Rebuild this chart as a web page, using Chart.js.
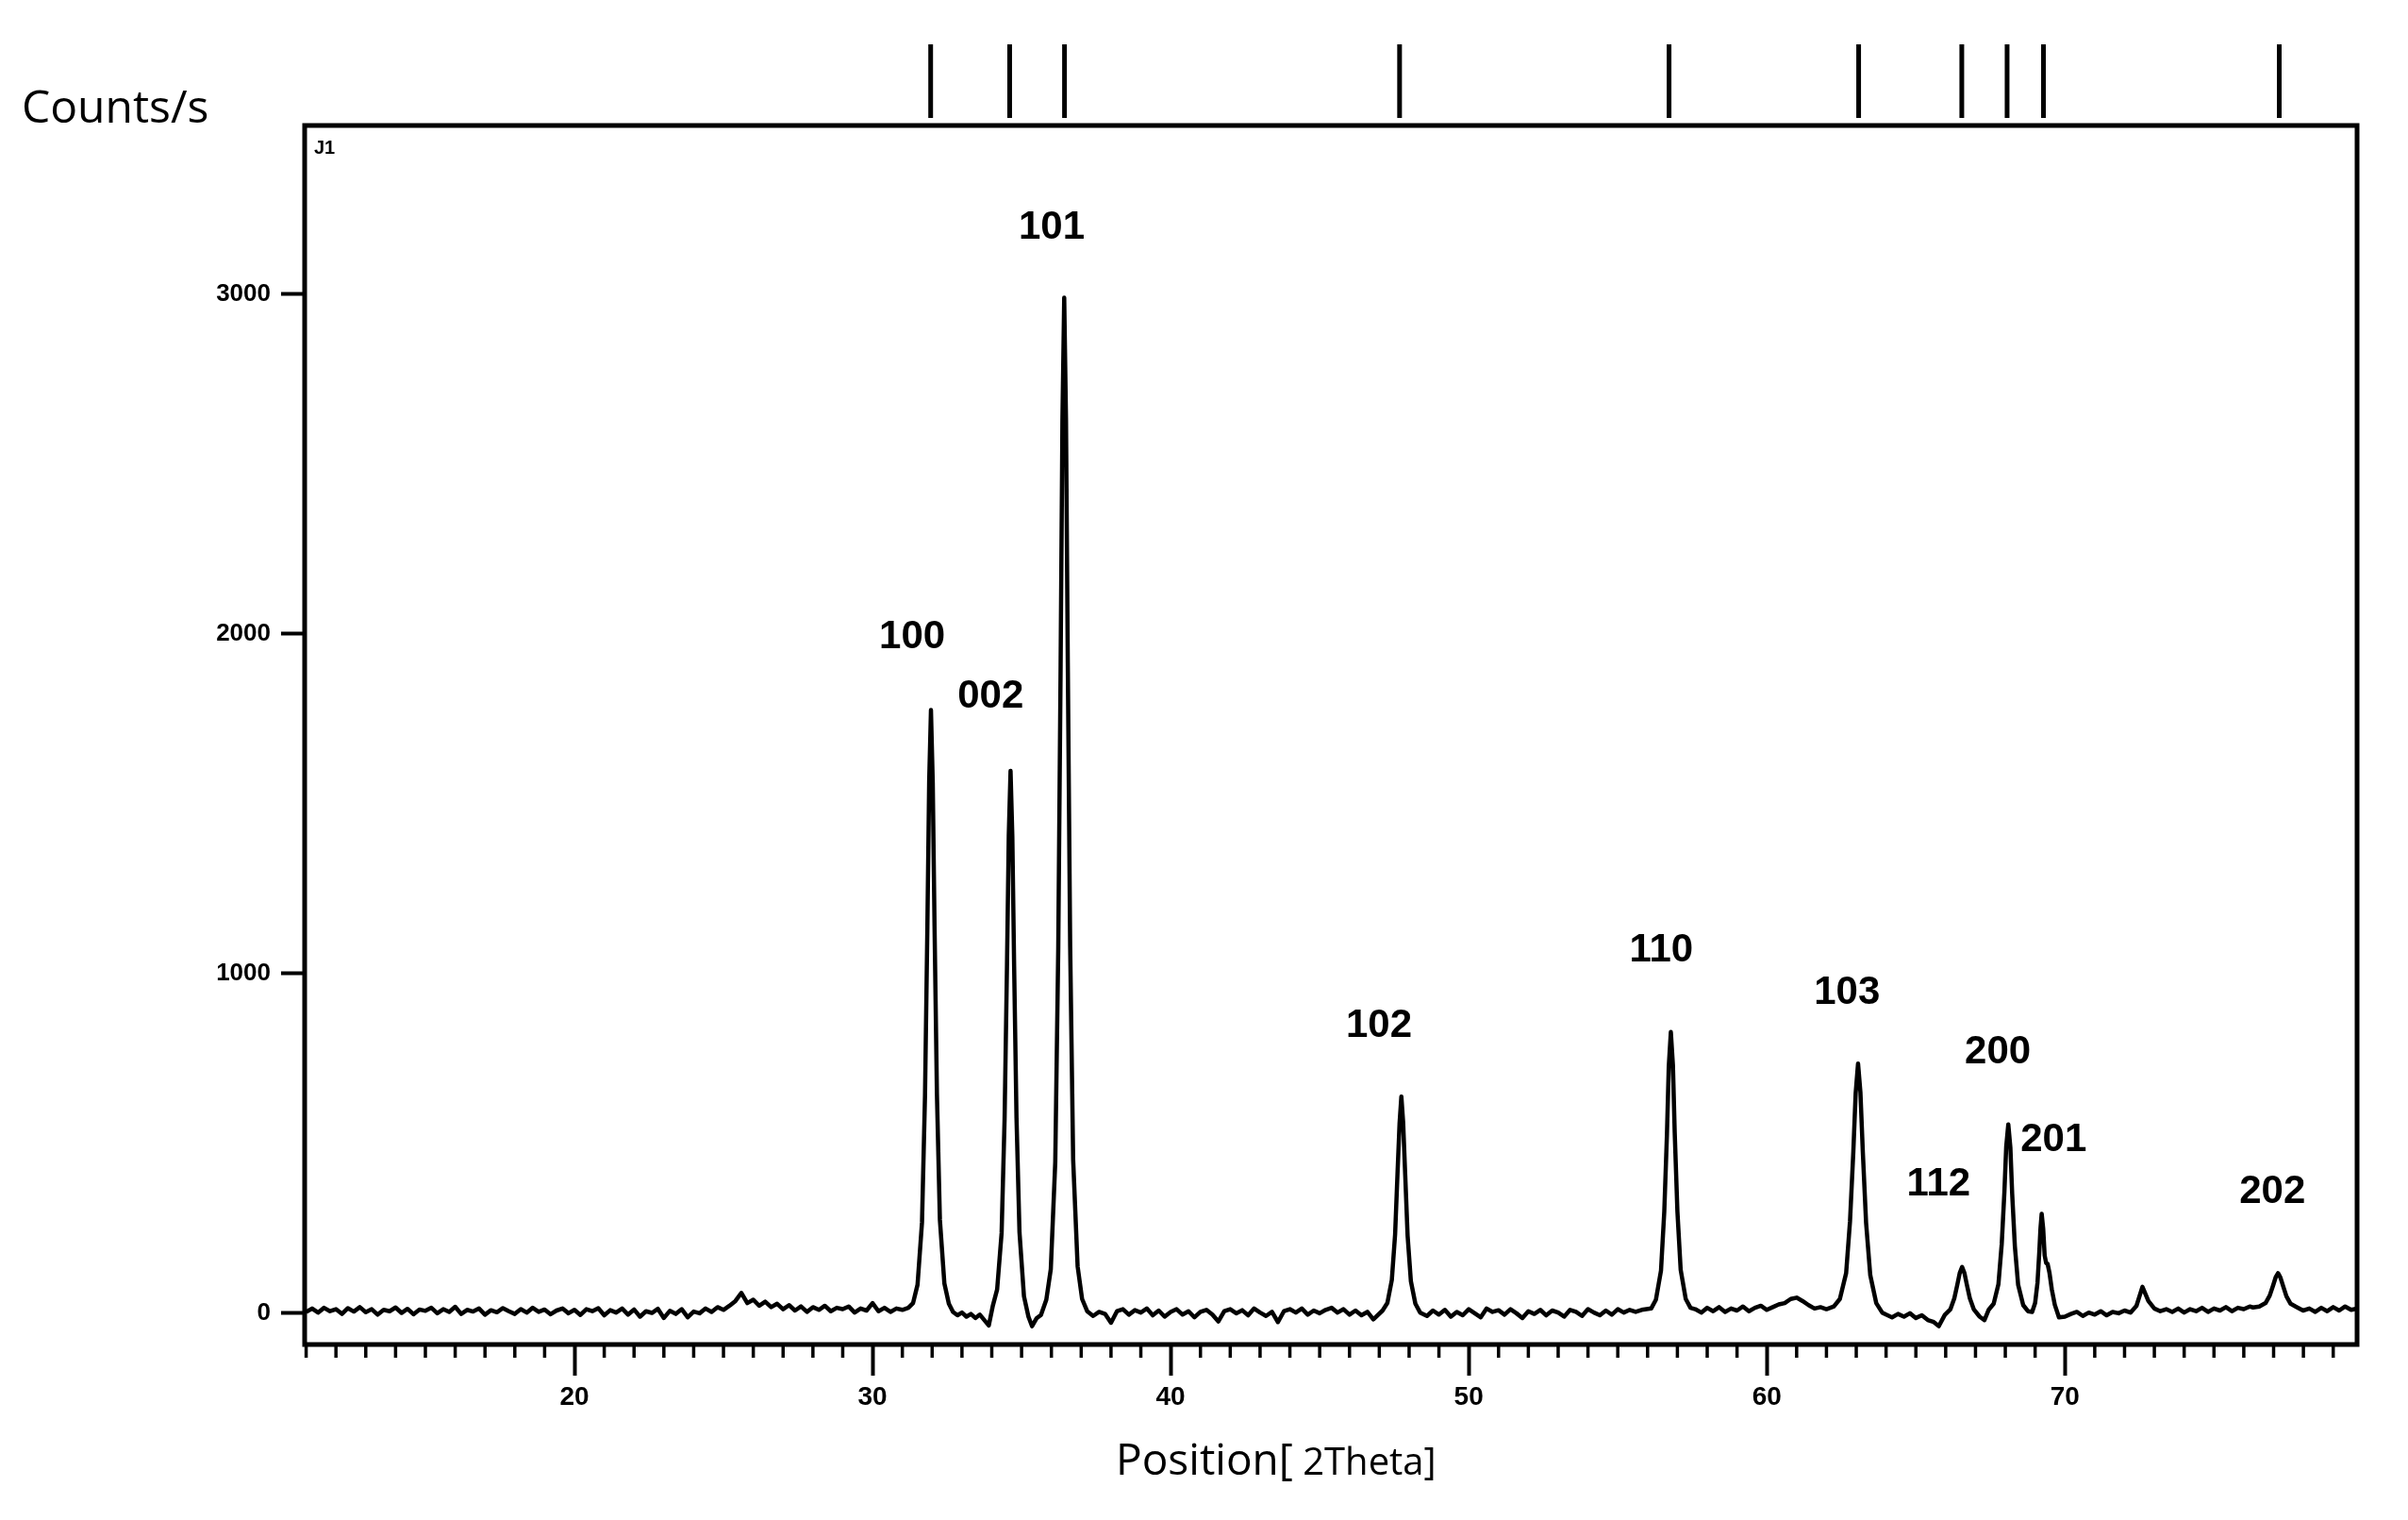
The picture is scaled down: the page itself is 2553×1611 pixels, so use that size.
<!DOCTYPE html>
<html>
<head>
<meta charset="utf-8">
<title>XRD pattern</title>
<script src="https://cdn.jsdelivr.net/npm/chart.js@4.4.1/dist/chart.umd.min.js"></script>
<style>
  html, body { margin: 0; padding: 0; background: #fff; }
  canvas { display: block; }
</style>
</head>
<body>
<canvas id="xrdChart" width="2553" height="1611"></canvas>
<script>
// scan: position (2theta, deg) and intensity (counts/s)
var twoTheta = [
    // background 11-31
    11.0, 11.2, 11.4, 11.6, 11.8, 12.0, 12.2, 12.4, 12.6, 12.8,
    13.0, 13.2, 13.4, 13.6, 13.8, 14.0, 14.2, 14.4, 14.6, 14.8,
    15.0, 15.2, 15.4, 15.6, 15.8, 16.0, 16.2, 16.4, 16.6, 16.8,
    17.0, 17.2, 17.4, 17.6, 17.8, 18.0, 18.2, 18.4, 18.6, 18.8,
    19.0, 19.2, 19.4, 19.6, 19.8, 20.0, 20.2, 20.4, 20.6, 20.8,
    21.0, 21.2, 21.4, 21.6, 21.8, 22.0, 22.2, 22.4, 22.6, 22.8,
    23.0, 23.2, 23.4, 23.6, 23.8, 24.0, 24.2, 24.4, 24.6, 24.8,
    25.0, 25.2, 25.4, 25.6, 25.8, 26.0, 26.2, 26.4, 26.6, 26.8,
    27.0, 27.2, 27.4, 27.6, 27.8, 28.0, 28.2, 28.4, 28.6, 28.8,
    29.0, 29.2, 29.4, 29.6, 29.8, 30.0, 30.2, 30.4, 30.6, 30.8,
    31.0, 31.2,
    // 100
    31.36, 31.51, 31.66, 31.76, 31.84, 31.90, 31.96, 32.02, 32.08, 32.16, 32.26, 32.41, 32.56,
    32.70, 32.85, 33.00, 33.15, 33.30, 33.45, 33.60, 33.75, 33.90,
    // 002
    34.03, 34.18, 34.33, 34.43, 34.51, 34.57, 34.63, 34.69, 34.75, 34.83, 34.93, 35.08, 35.23,
    35.35, 35.50, 35.65,
    // 101
    35.83, 35.98, 36.13, 36.23, 36.31, 36.37, 36.43, 36.49, 36.55, 36.63, 36.73, 36.88, 37.03,
    // background 37-47
    37.2, 37.4, 37.6, 37.8, 38.0, 38.2, 38.4, 38.6, 38.8, 39.0,
    39.2, 39.4, 39.6, 39.8, 40.0, 40.2, 40.4, 40.6, 40.8, 41.0,
    41.2, 41.4, 41.6, 41.8, 42.0, 42.2, 42.4, 42.6, 42.8, 43.0,
    43.2, 43.4, 43.6, 43.8, 44.0, 44.2, 44.4, 44.6, 44.8, 45.0,
    45.2, 45.4, 45.6, 45.8, 46.0, 46.2, 46.4, 46.6, 46.8,
    // 102
    47.11, 47.27, 47.42, 47.53, 47.61, 47.68, 47.74, 47.80, 47.87, 47.95, 48.06, 48.21, 48.37,
    // background 48-56
    48.6, 48.8, 49.0, 49.2, 49.4, 49.6, 49.8, 50.0, 50.2, 50.4,
    50.6, 50.8, 51.0, 51.2, 51.4, 51.6, 51.8, 52.0, 52.2, 52.4,
    52.6, 52.8, 53.0, 53.2, 53.4, 53.6, 53.8, 54.0, 54.2, 54.4,
    54.6, 54.8, 55.0, 55.2, 55.4, 55.6, 55.8,
    // 110
    56.12, 56.28, 56.45, 56.56, 56.65, 56.71, 56.78, 56.85, 56.91, 57.00, 57.11, 57.28, 57.44,
    // background 57-62
    57.6, 57.8, 58.0, 58.2, 58.4, 58.6, 58.8, 59.0, 59.2, 59.4,
    59.6, 59.8, 60.0, 60.2, 60.4, 60.6, 60.8, 61.0, 61.2, 61.4,
    61.6, 61.8, 62.0,
    // 103
    62.25, 62.45, 62.66, 62.79, 62.90, 62.98, 63.06, 63.14, 63.22, 63.33, 63.47, 63.67, 63.87,
    64.0, 64.2, 64.4, 64.6, 64.8, 65.0, 65.2, 65.4, 65.6,
    // 112
    65.77, 65.97, 66.16, 66.29, 66.39, 66.47, 66.55, 66.63, 66.71, 66.81, 66.94, 67.14, 67.30,
    // 200
    67.44, 67.61, 67.77, 67.88, 67.97, 68.03, 68.10, 68.17, 68.23, 68.32, 68.43, 68.60, 68.76,
    // 201
    68.90, 69.00, 69.08, 69.14, 69.18, 69.22, 69.27, 69.32, 69.37, 69.42, 69.48, 69.56, 69.66, 69.80,
    // background 70-76
    70.0, 70.2, 70.4, 70.6, 70.8, 71.0, 71.2, 71.4, 71.6, 71.8,
    72.0, 72.2, 72.4, 72.6, 72.8, 73.0, 73.2, 73.4, 73.6, 73.8,
    74.0, 74.2, 74.4, 74.6, 74.8, 75.0, 75.2, 75.4, 75.6, 75.8,
    76.0, 76.2,
    // 202
    76.31, 76.52, 76.73, 76.87, 76.98, 77.07, 77.15, 77.23, 77.32, 77.43, 77.57, 77.78, 77.99,
    78.2, 78.4, 78.6, 78.8, 79.0, 79.2, 79.4, 79.6, 79.8
];
var counts = [
    4, 14, 2, 16, 6, 12, -2, 15, 5, 18,
    3, 12, -4, 10, 6, 17, 1, 13, -3, 11,
    7, 16, 0, 12, 4, 19, -2, 10, 5, 14,
    -4, 9, 3, 15, 6, -2, 12, 2, 16, 4,
    11, -3, 8, 14, 0, 10, -5, 12, 6, 15,
    -6, 9, 2, 14, -4, 11, -10, 6, 1, 13,
    -14, 7, -2, 12, -12, 5, 0, 14, 4, 18,
    10, 22, 36, 60, 30, 40, 22, 34, 18, 28,
    12, 24, 8, 20, 4, 18, 10, 22, 6, 16,
    12, 20, 2, 14, 8, 30, 6, 16, 4, 14,
    10, 16,
    30, 84, 268, 640, 1138, 1565, 1776, 1562, 1140, 646, 275, 88, 28,
    4, -6, 2, -10, -2, -14, -4, -20, -36,
    20, 70, 236, 572, 1020, 1405, 1597, 1403, 1022, 574, 238, 50, -10,
    -38, -15, -5,
    40, 130, 445, 1072, 1910, 2628, 2990, 2630, 1916, 1080, 452, 138, 42,
    6, -8, 4, -2, -28, 6, 12, -4, 9, 2,
    14, -6, 8, -10, 4, 12, -4, 6, -12, 4,
    10, -4, -24, 6, 12, 0, 9, -6, 14, 2,
    -8, 4, -26, 6, 12, 2, 14, -4, 8, 0,
    10, 16, 2, 12, -4, 8, -6, 4, -18,
    8, 30, 98, 232, 410, 560, 638, 562, 406, 228, 94, 28, 2,
    -8, 8, -4, 10, -10, 4, -6, 12, 0, -12,
    14, 4, 9, -4, 12, 0, -14, 6, -2, 10,
    -6, 8, 2, -10, 10, 4, -8, 12, 2, -6,
    8, -4, 12, 2, 10, 4, 10,
    14, 40, 126, 300, 528, 726, 828, 730, 532, 300, 128, 42, 16,
    12, 2, 16, 6, 18, 4, 14, 8, 20, 6,
    16, 22, 10, 18, 26, 30, 42, 46, 36, 24,
    14, 18, 12,
    20, 42, 118, 270, 472, 648, 735, 650, 475, 266, 112, 30, 2,
    -4, -12, -2, -10, 0, -14, -6, -20, -26,
    -38, -5, 12, 44, 84, 118, 136, 118, 84, 44, 12, -10, -20,
    10, 28, 86, 204, 358, 490, 556, 488, 352, 198, 84, 24, 6,
    4, 30, 90, 180, 250, 293, 250, 170, 148, 145, 120, 70, 25, -12,
    -10, -2, 4, -8, 2, -4, 6, -6, 4, 0,
    8, 2, 22, 78, 36, 14, 6, 12, 4, 14,
    2, 12, 6, 16, 4, 14, 8, 18, 6, 16,
    12, 20,
    17, 20, 30, 52, 81, 106, 118, 105, 80, 50, 28, 18, 8,
    14, 4, 16, 6, 18, 8, 20, 10, 14
];

// reflection labels and where they sit (2theta, counts)
var hklLabels = ['100', '002', '101', '102', '110', '103', '112', '200', '201', '202'];
var hklX = [31.33, 33.96, 36.01, 46.99, 56.46, 62.69, 65.76, 67.75, 69.62, 76.96];
var hklY = [1989, 1814, 3197, 847, 1067, 944, 378, 767, 511, 356];

// reference pattern sticks above the frame
var refLines = [31.95, 34.60, 36.44, 47.68, 56.72, 63.08, 66.54, 68.06, 69.28, 77.19];

var xTicks = [20, 30, 40, 50, 60, 70];
var yTicks = [0, 1000, 2000, 3000];

if (twoTheta.length !== counts.length) {
    console.warn('length mismatch', twoTheta.length, counts.length);
}

var points = twoTheta.map(function (t, i) {
    return { x: t, y: counts[i] };
});

var decorations = {
    id: 'decorations',
    afterDraw: function (chart) {
        var c = chart.ctx;
        var area = chart.chartArea;
        var xs = chart.scales.x;
        var ys = chart.scales.y;
        c.save();
        c.strokeStyle = '#000';
        c.fillStyle = '#000';

        // plot frame
        c.lineWidth = 5;
        c.strokeRect(area.left, area.top, area.right - area.left, area.bottom - area.top);

        // minor ticks every degree
        c.lineWidth = 3.5;
        c.beginPath();
        for (var v = Math.ceil(xs.min); v <= xs.max; v++) {
            if (xTicks.indexOf(v) >= 0) continue;
            var px = xs.getPixelForValue(v);
            c.moveTo(px, area.bottom);
            c.lineTo(px, area.bottom + 14);
        }
        c.stroke();

        // reference sticks
        c.lineWidth = 5;
        c.beginPath();
        refLines.forEach(function (t) {
            var px = xs.getPixelForValue(t);
            c.moveTo(px, area.top - 86);
            c.lineTo(px, area.top - 8);
        });
        c.stroke();

        // hkl labels
        c.textAlign = 'center';
        c.textBaseline = 'middle';
        c.font = 'bold 42px "Liberation Sans", Arial, sans-serif';
        hklLabels.forEach(function (s, i) {
            c.fillText(s, xs.getPixelForValue(hklX[i]), ys.getPixelForValue(hklY[i]));
        });

        // scan name in the corner
        c.textAlign = 'left';
        c.textBaseline = 'alphabetic';
        c.font = 'bold 20px "Liberation Sans", Arial, sans-serif';
        c.fillText('J1', area.left + 10, area.top + 30);

        // axis titles
        c.font = '48px "Open Sans", sans-serif';
        c.fillText('Counts/s', 23, area.top - 3);

        var start = (area.left + area.right) / 2 - 228;
        c.font = '46px "Open Sans", sans-serif';
        var w1 = c.measureText('Position[').width;
        c.fillText('Position[', start, area.bottom + 138);
        c.font = '40px "Open Sans", sans-serif';
        c.fillText(' 2Theta]', start + w1, area.bottom + 138);

        c.restore();
    }
};

new Chart(document.getElementById('xrdChart'), {
    type: 'line',
    data: {
        datasets: [
            {
                data: points,
                borderColor: '#000',
                borderWidth: 4.5,
                borderJoinStyle: 'round',
                pointRadius: 0,
                tension: 0,
                fill: false
            }
        ]
    },
    options: {
        responsive: false,
        animation: false,
        devicePixelRatio: 1,
        layout: {
            padding: { top: 133, right: 54, left: 0, bottom: 0 }
        },
        plugins: {
            legend: { display: false },
            tooltip: { enabled: false }
        },
        scales: {
            x: {
                type: 'linear',
                min: 10.95,
                max: 79.8,
                afterBuildTicks: function (scale) {
                    scale.ticks = xTicks.map(function (v) { return { value: v }; });
                },
                afterFit: function (scale) { scale.height = 186; },
                border: { display: false },
                grid: {
                    drawOnChartArea: false,
                    drawTicks: true,
                    tickLength: 33,
                    tickWidth: 4,
                    tickColor: '#000'
                },
                ticks: {
                    color: '#000',
                    padding: 6,
                    maxRotation: 0,
                    autoSkip: false,
                    callback: function (v) { return String(v); },
                    font: { family: '"Liberation Sans", Arial, sans-serif', size: 28, weight: 'bold' }
                }
            },
            y: {
                min: -92,
                max: 3497,
                afterBuildTicks: function (scale) {
                    scale.ticks = yTicks.map(function (v) { return { value: v }; });
                },
                afterFit: function (scale) { scale.width = 323; },
                border: { display: false },
                grid: {
                    drawOnChartArea: false,
                    drawTicks: true,
                    tickLength: 25,
                    tickWidth: 4,
                    tickColor: '#000'
                },
                ticks: {
                    color: '#000',
                    padding: 11,
                    callback: function (v) { return String(v); },
                    font: { family: '"Liberation Sans", Arial, sans-serif', size: 26, weight: 'bold' }
                }
            }
        }
    },
    plugins: [decorations]
});
</script>
</body>
</html>
